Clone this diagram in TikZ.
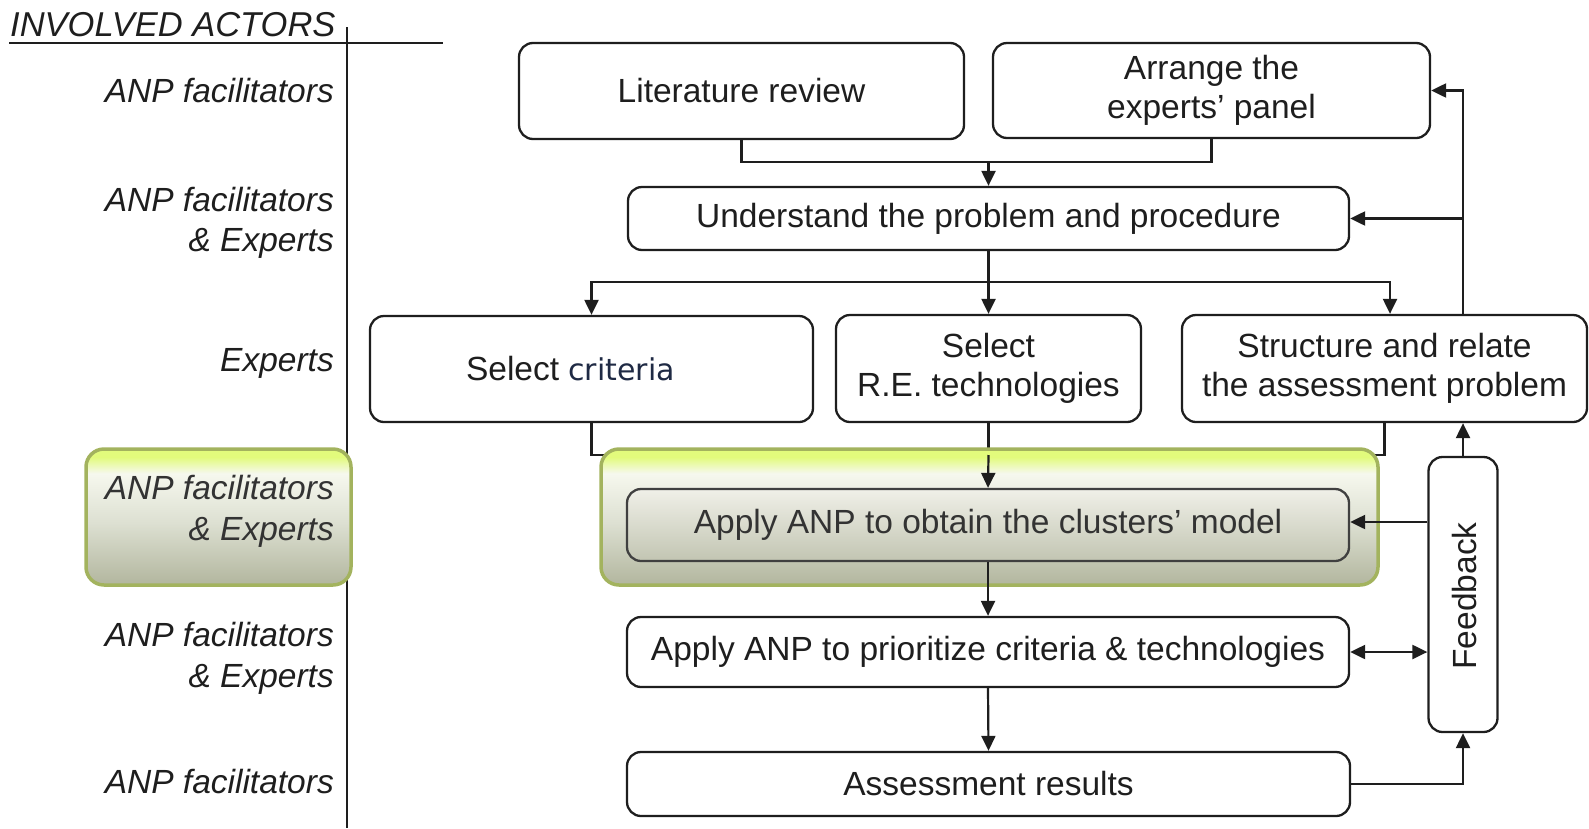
\documentclass[tikz,border=0pt]{standalone}
\usepackage{fontspec}
\setmainfont{Liberation Sans}
\newfontfamily\critfont{DejaVu Sans}
\usetikzlibrary{arrows.meta,calc}
\definecolor{ink}{HTML}{1E1E1E}
\definecolor{hlB}{HTML}{B2B69E}
\definecolor{hlM}{HTML}{DDE0D2}
\definecolor{hlW}{HTML}{F6F8EE}
\definecolor{hlT}{HTML}{E2FB7C}
\definecolor{hlrim}{HTML}{A3B35E}
\definecolor{appT}{HTML}{F0F0E8}
\definecolor{appB}{HTML}{C2C5B2}
\definecolor{critcol}{HTML}{1F2A44}
\pgfdeclareverticalshading{hlshade}{100bp}{color(0bp)=(hlB); color(25bp)=(hlB); color(48bp)=(hlM); color(66bp)=(hlW); color(72bp)=(hlT); color(100bp)=(hlT)}
\newcommand{\bigfont}{\fontsize{33.5}{39}\selectfont}
\newcommand{\actorfont}{\fontsize{33.5}{40.5}\selectfont\itshape}
\tikzset{
  box/.style={draw=ink, line width=2.3pt, rounded corners=14pt, fill=white, align=center, inner sep=0pt, text=ink, font=\bigfont},
  conn/.style={draw=ink, line width=2.2pt},
  arr/.style={conn, -{Triangle[length=15pt,width=14pt]}},
  darr/.style={conn, {Triangle[length=15pt,width=14pt]}-{Triangle[length=15pt,width=14pt]}},
  hlbox/.style={draw=hlrim, line width=3.5pt, rounded corners=18pt, shading=hlshade, inner sep=0pt},
  actor/.style={anchor=east, align=right, font=\actorfont, text=ink, inner sep=0pt},
}
\begin{document}
\begin{tikzpicture}[x=1pt,y=-1pt]
\useasboundingbox (0,0) rectangle (1589,828);
% actors column
\node[anchor=base west, font=\fontsize{34.5}{40}\selectfont\itshape, text=ink, inner sep=0pt] (head) at (10,36) {INVOLVED ACTORS};
\coordinate (hl1) at (9,43);
\coordinate (hl2) at (443,43);
\coordinate (vl1) at (347,27);
\coordinate (vl2) at (347,828);
\draw[conn, line width=2pt] (hl1) -- (hl2);
\draw[conn, line width=2pt] (vl1) -- (vl2);
\node[hlbox, minimum width=265pt, minimum height=136pt] (hlact) at (218.5,517) {};
\node[actor] (a1) at (334,91) {ANP facilitators};
\node[actor] (a2) at (334,223) {ANP facilitators\\\& Experts};
\node[actor] (a3) at (334,363) {Experts};
\node[actor, text=black!80] (a4) at (334,511.5) {ANP facilitators\\\& Experts};
\node[actor] (a5) at (334,658.5) {ANP facilitators\\\& Experts};
\node[actor] (a6) at (334,782) {ANP facilitators};
% process boxes
\node[box, minimum width=445pt, minimum height=96pt] (lit) at (741.5,91) {Literature review};
\node[box, minimum width=437pt, minimum height=95pt] (arr) at (1211.5,90.5) {Arrange the\\experts' panel};
\node[box, minimum width=721pt, minimum height=63pt] (und) at (988.5,218.5) {Understand the problem and procedure};
\node[box, minimum width=443pt, minimum height=106pt] (crit) at (591.5,369) {Select {\critfont\fontsize{30}{36}\selectfont\color{critcol}criteria}\hspace*{42pt}};
\node[box, minimum width=305pt, minimum height=107pt] (tech) at (988.5,368.5) {Select\\R.E. technologies};
\node[box, minimum width=405pt, minimum height=107pt] (struct) at (1384.5,368.5) {Structure and relate\\the assessment problem};
\node[box, minimum width=69pt, minimum height=275pt] (fb) at (1463,594.5) {};
\node[rotate=90, font=\bigfont, text=ink, inner sep=0pt] (fbt) at (1465,596) {Feedback};
\coordinate (m1) at (988.5,162);
\coordinate (m2) at (988.5,282);
\coordinate (m3) at (988.5,455);
% merge lines behind highlight
\draw[conn] (crit.south) |- (m3);
\draw[conn] (struct.south) |- (m3);
\draw[conn] (tech.south) -- (m3);
% highlight
\node[hlbox, minimum width=777pt, minimum height=136pt] (hlapp) at (989.5,517) {};
\node[box, draw=black!75, top color=appT, bottom color=appB, text=black!80, minimum width=722pt, minimum height=72pt] (app) at (988,525) {Apply ANP to obtain the clusters' model};
\node[box, minimum width=722pt, minimum height=70pt] (pri) at (988,652) {Apply ANP to prioritize criteria \& technologies};
\node[box, minimum width=723pt, minimum height=64pt] (res) at (988.5,784) {Assessment results};
% connectors
\draw[conn] (lit.south) |- (m1);
\draw[conn] (arr.south) |- (m1);
\draw[arr] (m1) -- (und.north);
\draw[conn] (und.south) -- (m2);
\draw[arr] (m2) -- (tech.north);
\draw[arr] (m2) -| (crit.north);
\draw[arr] (m2) -| ($(struct.north)+(5.5,0)$);
\draw[arr] (m3) -- (app.north);
\draw[arr] (app.south) -- (pri.north);
\draw[arr] (pri.south) -- (res.north);
\draw[arr] (struct.north -| fb.north) |- (arr.east);
\draw[arr] (fb.north |- und.east) -- (und.east);
\draw[arr] (fb.north) -- (fb.north |- struct.south);
\draw[arr] ($(fb.west)+(0,-72.5)$) -- ($(app.east)+(0,-3)$);
\draw[darr] (pri.east) -- (pri.east -| fb.west);
\draw[arr] (res.east) -| (fb.south);
\end{tikzpicture}
\end{document}
